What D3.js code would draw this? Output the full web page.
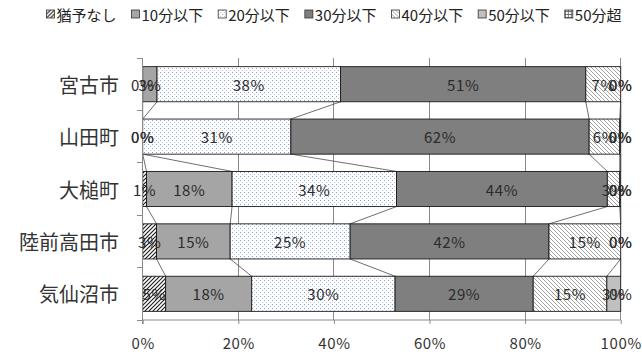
<!DOCTYPE html>
<html>
<head>
<meta charset="utf-8">
<script src="https://cdn.jsdelivr.net/npm/d3@7"></script>
<style>
  html, body { margin: 0; padding: 0; background: #fff; }
  svg { display: block; font-family: "Noto Sans CJK JP", "Noto Sans", sans-serif; }
</style>
</head>
<body>
<svg id="chart" width="642" height="354"></svg>
<script>
// Municipalities (top to bottom)
const categories = ["宮古市", "山田町", "大槌町", "陸前高田市", "気仙沼市"];

// Time-to-evacuation groups (stack order, left to right)
const seriesNames = ["猶予なし", "10分以下", "20分以下", "30分以下", "40分以下", "50分以下", "50分超"];

// Share of each group per municipality, in percent
const noMargin   = [0.0, 0.0, 0.8, 2.9, 4.8];
const within10   = [3.0, 0.0, 17.9, 15.4, 18.0];
const within20   = [38.4, 31.0, 34.4, 25.1, 30.0];
const within30   = [51.3, 62.4, 44.1, 41.6, 28.9];
const within40   = [7.3, 6.4, 2.6, 15.0, 15.4];
const within50   = [0.0, 0.2, 0.2, 0.0, 2.9];
const over50     = [0.0, 0.0, 0.0, 0.0, 0.0];

const xTicks = [0, 20, 40, 60, 80, 100];

const seriesValues = [noMargin, within10, within20, within30, within40, within50, over50];

const rows = categories.map((c, i) => {
  const r = { name: c };
  seriesNames.forEach((s, k) => { r[s] = seriesValues[k][i]; });
  return r;
});

const svg = d3.select("#chart");
const defs = svg.append("defs");

// Fill patterns
function hatch(id, d, color, w) {
  const p = defs.append("pattern").attr("id", id)
    .attr("patternUnits", "userSpaceOnUse").attr("width", 4).attr("height", 4);
  p.append("rect").attr("width", 4).attr("height", 4).attr("fill", "#fff");
  p.append("path").attr("d", d).attr("stroke", color).attr("stroke-width", w).attr("fill", "none");
}
hatch("p-up", "M-1,1 l2,-2 M0,4 l4,-4 M3,5 l2,-2", "#1a1a1a", 1.1);
hatch("p-down", "M-1,3 l2,2 M0,0 l4,4 M3,-1 l2,2", "#7a7a7a", 0.7);
{
  const p = defs.append("pattern").attr("id", "p-dots")
    .attr("patternUnits", "userSpaceOnUse").attr("width", 4).attr("height", 4);
  p.append("rect").attr("width", 4).attr("height", 4).attr("fill", "#fff");
  p.append("rect").attr("x", 0).attr("y", 0).attr("width", 1).attr("height", 1).attr("fill", "#7f9fd6");
  p.append("rect").attr("x", 2).attr("y", 2).attr("width", 1).attr("height", 1).attr("fill", "#a9bde6");
}
{
  const p = defs.append("pattern").attr("id", "p-grid")
    .attr("patternUnits", "userSpaceOnUse").attr("width", 3).attr("height", 3);
  p.append("rect").attr("width", 3).attr("height", 3).attr("fill", "#fff");
  p.append("path").attr("d", "M0,0.5 H3 M0.5,0 V3").attr("stroke", "#555").attr("stroke-width", 0.8);
}

const fills = {
  "猶予なし": "url(#p-up)",
  "10分以下": "#a5a5a5",
  "20分以下": "url(#p-dots)",
  "30分以下": "#7f7f7f",
  "40分以下": "url(#p-down)",
  "50分以下": "#c0c0c0",
  "50分超": "url(#p-grid)"
};

const x = d3.scaleLinear().domain([0, 100]).range([142.7, 620.7]);
const y = d3.scaleBand().domain(categories).range([58, 320]).paddingInner(0.33).paddingOuter(0.165);

const stacked = d3.stack().keys(seriesNames)(rows);

// Vertical gridlines
const grid = svg.append("g");
grid.selectAll("line").data(xTicks).join("line")
  .attr("x1", d => x(d)).attr("x2", d => x(d))
  .attr("y1", 58).attr("y2", 320)
  .attr("stroke", "#8a8a8a").attr("stroke-width", 1).attr("shape-rendering", "crispEdges");

// Series lines joining segment boundaries of neighbouring bars
const sl = svg.append("g");
stacked.forEach(layer => {
  for (let i = 0; i < categories.length - 1; i++) {
    sl.append("line")
      .attr("x1", x(layer[i][1])).attr("y1", y(categories[i]) + y.bandwidth())
      .attr("x2", x(layer[i + 1][1])).attr("y2", y(categories[i + 1]))
      .attr("stroke", "#4a4a4a").attr("stroke-width", 0.8);
  }
});

// Bars
const bars = svg.append("g");
stacked.forEach(layer => {
  bars.selectAll(null).data(layer).join("rect")
    .attr("x", d => x(d[0]))
    .attr("y", d => y(d.data.name))
    .attr("width", d => x(d[1]) - x(d[0]))
    .attr("height", y.bandwidth())
    .attr("fill", fills[layer.key])
    .attr("stroke", "#1a1a1a").attr("stroke-width", 0.9);
});

// Axes
const xAxis = svg.append("g").attr("transform", "translate(0,320)")
  .call(d3.axisBottom(x).tickValues(xTicks).tickSize(4).tickPadding(14).tickFormat(d => d + "%"));
xAxis.select(".domain").attr("stroke", "#8a8a8a").attr("d", `M${x(0)},0H${x(100)}`);
xAxis.selectAll(".tick line").attr("stroke", "#8a8a8a");
xAxis.selectAll("text").attr("font-size", 15).attr("fill", "#333")
  .attr("font-family", "'Noto Sans CJK JP', sans-serif").attr("letter-spacing", 0.6);

const yAxisG = svg.append("g");
yAxisG.append("line").attr("x1", x(0)).attr("x2", x(0)).attr("y1", 58).attr("y2", 324)
  .attr("stroke", "#8a8a8a").attr("shape-rendering", "crispEdges");
const boundaries = categories.map(c => y(c) - y.step() * y.paddingInner() / 2).concat([320]);
yAxisG.selectAll("line.t").data(boundaries).join("line").attr("class", "t")
  .attr("x1", x(0) - 6).attr("x2", x(0)).attr("y1", d => d).attr("y2", d => d)
  .attr("stroke", "#8a8a8a").attr("shape-rendering", "crispEdges");
yAxisG.selectAll("text").data(categories).join("text")
  .attr("x", 119).attr("y", d => y(d) + y.bandwidth() / 2)
  .attr("text-anchor", "end").attr("dominant-baseline", "central")
  .attr("font-size", 20).attr("fill", "#333").text(d => d);

// Data labels
const labels = svg.append("g");
stacked.forEach(layer => {
  labels.selectAll(null).data(layer).join("text")
    .attr("x", d => (x(d[0]) + x(d[1])) / 2)
    .attr("y", d => y(d.data.name) + y.bandwidth() / 2)
    .attr("text-anchor", "middle").attr("dominant-baseline", "central")
    .attr("font-size", 15).attr("letter-spacing", 0.6).attr("fill", "#2b2b2b")
    .text(d => Math.round(d[1] - d[0]) + "%");
});

// Legend
const legend = svg.append("g").attr("transform", "translate(0,14)");
const items = legend.selectAll("g").data(seriesNames).join("g");
items.append("rect").attr("x", 0).attr("y", -4).attr("width", 8).attr("height", 8)
  .attr("fill", d => fills[d]).attr("stroke", "#333").attr("stroke-width", 0.8);
items.append("text").attr("x", 10).attr("y", 0).attr("dominant-baseline", "central")
  .attr("font-size", 15).attr("fill", "#222").text(d => d);
const gap = 15;
const widths = [];
items.each(function () { widths.push(10 + d3.select(this).select("text").node().getComputedTextLength()); });
const total = d3.sum(widths) + gap * (widths.length - 1);
let cx = 334 - total / 2;
items.each(function (d, i) {
  d3.select(this).attr("transform", `translate(${cx},0)`);
  cx += widths[i] + gap;
});
</script>
</body>
</html>
